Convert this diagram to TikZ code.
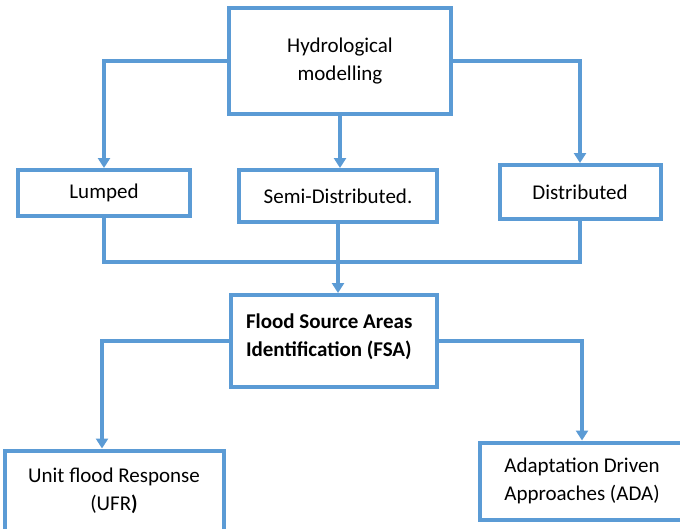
\documentclass[tikz,border=0pt]{standalone}
\usepackage{fontspec}
\setmainfont{Carlito}
\usetikzlibrary{arrows.meta}
\definecolor{flowblue}{HTML}{5B9BD5}
\tikzset{
  box/.style={draw=flowblue,line width=4pt,fill=white,align=center,inner sep=0pt,
    font=\fontsize{21}{28}\selectfont},
  link/.style={draw=flowblue,line width=3.5pt},
  flowarrow/.style={link,-{Triangle[width=12pt,length=10pt]}}
}

\begin{document}
\begin{tikzpicture}[x=1pt,y=-1pt]
\useasboundingbox (0,0) rectangle (680,528);
\node[box,minimum width=222pt,minimum height=106pt] (model) at (340,61) {Hydrological\\modelling};
\node[box,minimum width=172pt,minimum height=46pt] (lumped) at (104,193) {Lumped};
\node[box,minimum width=198pt,minimum height=52pt] (semi) at (338,196) {Semi-Distributed.};
\node[box,minimum width=161pt,minimum height=54pt] (dist) at (580,192) {Distributed};
\node[box,minimum width=206pt,minimum height=92pt,text width=176pt,align=flush left,
  font=\fontsize{21}{28}\selectfont\bfseries] (fsa) at (334,341) {Flood Source Areas\\Identification (FSA)\\[-16pt]\mbox{}};
\node[box,minimum width=219pt,minimum height=81pt] (ufr) at (114,491) {Unit flood Response\\(UFR\textbf{)}};
\node[box,minimum width=204pt,minimum height=77pt] (ada) at (582,481) {Adaptation Driven\\Approaches (ADA)};
\coordinate (merge) at (338,262);

\draw[flowarrow] (model.west) -| (lumped.north);
\draw[flowarrow] (model.south) -- (model.south |- semi.north);
\draw[flowarrow] (model.east) -| (dist.north);
\draw[link] (lumped.south) |- (merge) -| (dist.south);
\draw[flowarrow] (semi.south) -- (semi.south |- fsa.north);
\draw[flowarrow] (fsa.west) -| ([xshift=-12pt]ufr.north);
\draw[flowarrow] (fsa.east) -| (ada.north);
\end{tikzpicture}
\end{document}
